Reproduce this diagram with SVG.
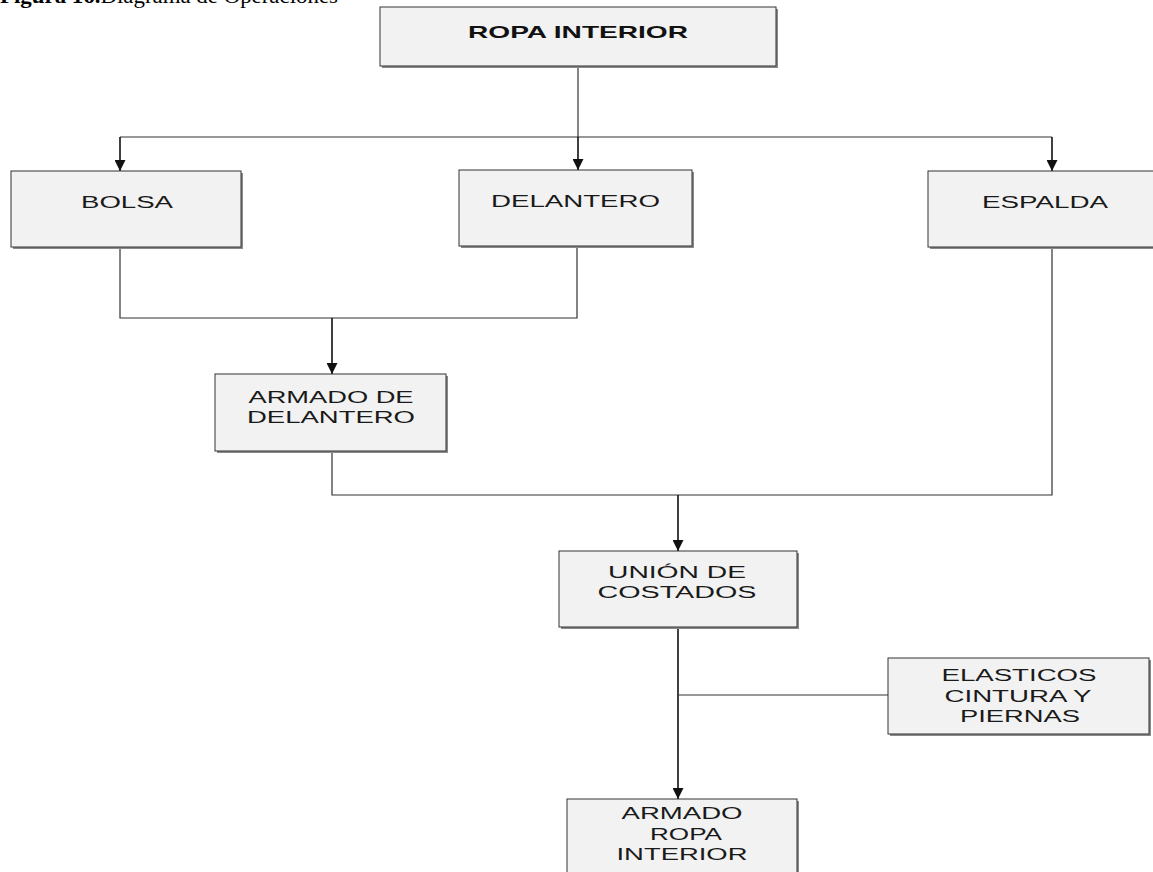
<svg xmlns="http://www.w3.org/2000/svg" width="1153" height="872" viewBox="0 0 1153 872">
<style>
.bg{fill:#ffffff}
.sh{fill:#8a8a8a}
.box{fill:#f2f2f2;stroke:#333333;stroke-width:1}
.t{font-family:"Liberation Sans",Arial,sans-serif;font-size:16px;fill:#1a1a1a;text-anchor:middle}
.tb{font-family:"Liberation Sans",Arial,sans-serif;font-size:17px;font-weight:bold;fill:#111111;text-anchor:middle}
.cap{font-family:"Liberation Serif","Times New Roman",serif;font-size:20px;fill:#000000}
.ln{fill:none;stroke:#333333;stroke-width:1.2}
.ar{fill:none;stroke:#111111;stroke-width:1.6;marker-end:url(#ah)}
</style>
<defs>
<marker id="ah" markerUnits="userSpaceOnUse" markerWidth="11" markerHeight="11" refX="10" refY="5" orient="auto" viewBox="0 0 10 10">
<path d="M0,0 L10,5 L0,10 z" fill="#111111"/>
</marker>
</defs>
<rect class="bg" x="0" y="0" width="1153" height="872"/>
<text class="cap" x="0" y="3" textLength="338" lengthAdjust="spacingAndGlyphs"><tspan font-weight="bold">Figura 16.</tspan>Diagrama de Operaciones</text>

<g id="connectors">
<path class="ln" d="M578,67 V137"/>
<path class="ln" d="M120,137 H1052"/>
<path class="ar" d="M120,137 V171"/>
<path class="ar" d="M578,137 V170"/>
<path class="ar" d="M1052,137 V171"/>
<path class="ln" d="M120,247 V318 H577 V246"/>
<path class="ar" d="M332,318 V374"/>
<path class="ln" d="M332,451 V495 H1052 V247"/>
<path class="ar" d="M678,495 V551"/>
<path class="ar" d="M678,627 V799"/>
<path class="ln" d="M678,695 H888"/>
</g>

<g id="ropa-interior">
<rect class="sh" x="382" y="9" width="396" height="59"/>
<rect class="box" x="380" y="7" width="396" height="59"/>
<text class="tb" x="578" y="38" textLength="220" lengthAdjust="spacingAndGlyphs">ROPA INTERIOR</text>
</g>

<g id="bolsa">
<rect class="sh" x="13" y="173" width="230" height="76"/>
<rect class="box" x="11" y="171" width="230" height="76"/>
<text class="t" x="127" y="208" textLength="92" lengthAdjust="spacingAndGlyphs">BOLSA</text>
</g>

<g id="delantero">
<rect class="sh" x="461" y="172" width="233" height="76"/>
<rect class="box" x="459" y="170" width="233" height="76"/>
<text class="t" x="575.5" y="207" textLength="169" lengthAdjust="spacingAndGlyphs">DELANTERO</text>
</g>

<g id="espalda">
<rect class="sh" x="930" y="173" width="240" height="76"/>
<rect class="box" x="928" y="171" width="240" height="76"/>
<text class="t" x="1045" y="208" textLength="126" lengthAdjust="spacingAndGlyphs">ESPALDA</text>
</g>

<g id="armado-delantero">
<rect class="sh" x="217" y="376" width="231" height="77"/>
<rect class="box" x="215" y="374" width="231" height="77"/>
<text class="t" x="331" y="403" textLength="165" lengthAdjust="spacingAndGlyphs">ARMADO DE</text>
<text class="t" x="331" y="423" textLength="168" lengthAdjust="spacingAndGlyphs">DELANTERO</text>
</g>

<g id="union-costados">
<rect class="sh" x="561" y="553" width="238" height="76"/>
<rect class="box" x="559" y="551" width="238" height="76"/>
<text class="t" x="677" y="578" textLength="138" lengthAdjust="spacingAndGlyphs">UNIÓN DE</text>
<text class="t" x="677" y="598" textLength="159" lengthAdjust="spacingAndGlyphs">COSTADOS</text>
</g>

<g id="elasticos">
<rect class="sh" x="890" y="660" width="261" height="76"/>
<rect class="box" x="888" y="658" width="261" height="76"/>
<text class="t" x="1019" y="681" textLength="155" lengthAdjust="spacingAndGlyphs">ELASTICOS</text>
<text class="t" x="1018" y="702" textLength="147" lengthAdjust="spacingAndGlyphs">CINTURA Y</text>
<text class="t" x="1020" y="722" textLength="120" lengthAdjust="spacingAndGlyphs">PIERNAS</text>
</g>

<g id="armado-ropa-interior">
<rect class="sh" x="569" y="801" width="230" height="80"/>
<rect class="box" x="567" y="799" width="230" height="80"/>
<text class="t" x="682" y="819" textLength="121" lengthAdjust="spacingAndGlyphs">ARMADO</text>
<text class="t" x="686" y="840" textLength="72" lengthAdjust="spacingAndGlyphs">ROPA</text>
<text class="t" x="682" y="860" textLength="131" lengthAdjust="spacingAndGlyphs">INTERIOR</text>
</g>
</svg>
